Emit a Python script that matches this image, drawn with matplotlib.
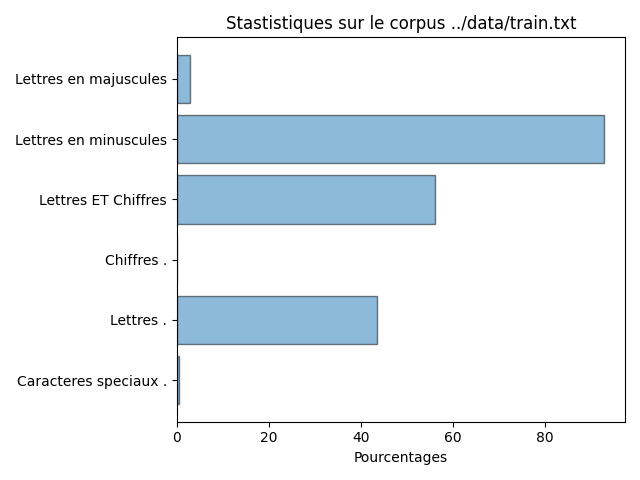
import matplotlib
matplotlib.use("Agg")
import matplotlib.pyplot as plt
import numpy as np

categories = ["Caracteres speciaux .", "Lettres .", "Chiffres .",
              "Lettres ET Chiffres", "Lettres en minuscules", "Lettres en majuscules"]
percentages = [0.4, 43.6, 0.0, 56.2, 92.8, 2.9]

y_pos = np.arange(len(categories))

fig = plt.figure(figsize=(6.4, 4.8), dpi=100)
plt.barh(y_pos, percentages, align='center', alpha=0.5, edgecolor='black')
plt.yticks(y_pos, categories)
plt.xlabel('Pourcentages')
plt.title('Stastistiques sur le corpus ../data/train.txt')
plt.tight_layout()
plt.savefig("out.png")
